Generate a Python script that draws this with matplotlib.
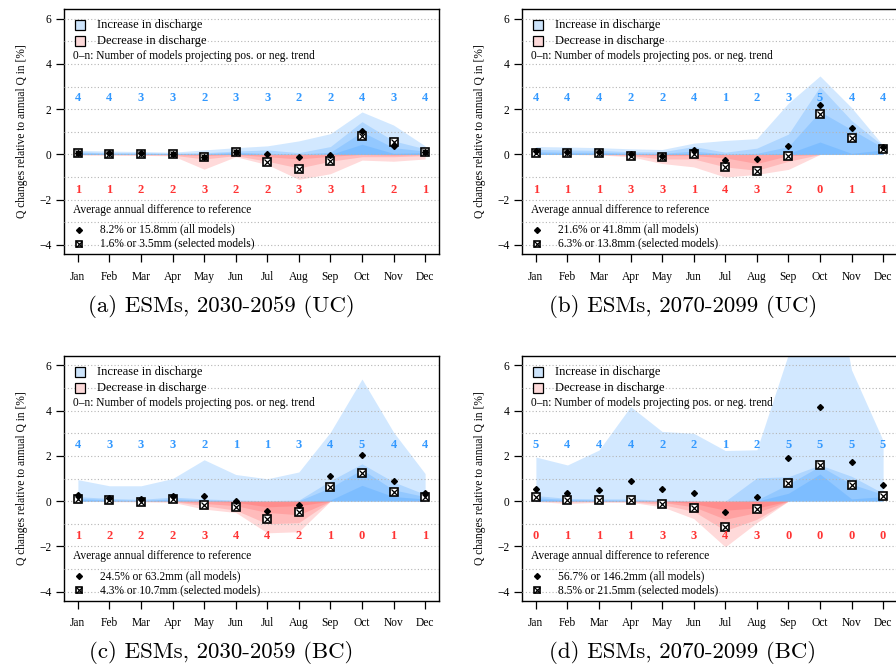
import numpy as np
import matplotlib
matplotlib.use("Agg")
import matplotlib.pyplot as plt

plt.rcParams['font.family'] = ['Liberation Serif', 'DejaVu Serif']
plt.rcParams['axes.unicode_minus'] = True

months = ['Jan', 'Feb', 'Mar', 'Apr', 'May', 'Jun', 'Jul', 'Aug', 'Sep', 'Oct', 'Nov', 'Dec']
x = np.arange(1, 13)

# ---- panel (a) ESMs 2030-2059 (UC)
a_blue = [[0.18, 0.15, 0.13, 0.10, 0.20, 0.30, 0.38, 0.60, 0.92, 1.88, 1.30, 0.38],
          [0.12, 0.08, 0.08, 0.06, 0.08, 0.15, 0.20, 0.08, 0.35, 1.45, 0.60, 0.25],
          [0.08, 0.05, 0.05, 0.04, 0.04, 0.10, 0.05, 0.02, 0.10, 1.00, 0.30, 0.15],
          [0.04, 0.02, 0.02, 0.02, 0.01, 0.05, 0.00, 0.00, 0.00, 0.45, 0.05, 0.08]]
a_red = [[-0.03, -0.03, -0.04, -0.06, -0.65, -0.10, -0.45, -1.10, -0.85, -0.25, -0.30, -0.20],
         [0.00, -0.01, -0.02, -0.03, -0.20, -0.05, -0.30, -0.60, -0.30, -0.10, -0.10, -0.05],
         [0.00, 0.00, 0.00, 0.00, -0.05, 0.00, -0.10, -0.20, -0.08, 0.00, -0.03, 0.00]]
a_all = [0.08, 0.05, 0.05, 0.03, -0.10, 0.12, 0.02, -0.12, -0.01, 1.04, 0.37, 0.13]
a_sel = [0.08, 0.04, 0.03, 0.01, -0.12, 0.10, -0.35, -0.63, -0.31, 0.82, 0.56, 0.12]
a_npos = [4, 4, 3, 3, 2, 3, 3, 2, 2, 4, 3, 4]
a_nneg = [1, 1, 2, 2, 3, 2, 2, 3, 3, 1, 2, 1]
a_txt = ['8.2% or 15.8mm (all models)', '1.6% or 3.5mm (selected models)']
a_cap = '(a) ESMs, 2030-2059 (UC)'

# ---- panel (b) ESMs 2070-2099 (UC)
b_blue = [[0.35, 0.33, 0.30, 0.25, 0.22, 0.50, 0.62, 0.70, 2.27, 3.47, 2.07, 0.40],
          [0.22, 0.20, 0.18, 0.12, 0.12, 0.35, 0.10, 0.28, 0.90, 3.00, 1.50, 0.38],
          [0.12, 0.10, 0.10, 0.06, 0.05, 0.15, 0.02, 0.05, 0.35, 1.90, 1.10, 0.30],
          [0.06, 0.05, 0.05, 0.02, 0.02, 0.05, 0.00, 0.00, 0.05, 0.55, 0.05, 0.20]]
b_red = [[0.00, 0.00, -0.02, -0.10, -0.40, -0.55, -1.00, -0.88, -0.66, 0.00, 0.00, 0.00],
         [0.00, 0.00, 0.00, -0.05, -0.20, -0.20, -0.55, -0.70, -0.30, 0.00, 0.00, 0.00],
         [0.00, 0.00, 0.00, 0.00, -0.05, -0.05, -0.15, -0.40, -0.05, 0.00, 0.00, 0.00]]
b_all = [0.15, 0.12, 0.10, 0.03, -0.07, 0.18, -0.25, -0.18, 0.37, 2.18, 1.15, 0.35]
b_sel = [0.08, 0.06, 0.05, -0.05, -0.10, 0.00, -0.54, -0.72, -0.07, 1.81, 0.74, 0.22]
b_npos = [4, 4, 4, 2, 2, 4, 1, 2, 3, 5, 4, 4]
b_nneg = [1, 1, 1, 3, 3, 1, 4, 3, 2, 0, 1, 1]
b_txt = ['21.6% or 41.8mm (all models)', '6.3% or 13.8mm (selected models)']
b_cap = '(b) ESMs, 2070-2099 (UC)'

# ---- panel (c) ESMs 2030-2059 (BC)
c_blue = [[0.95, 0.68, 0.68, 1.00, 1.83, 1.18, 0.99, 1.29, 3.05, 5.40, 3.05, 1.22],
          [0.20, 0.12, 0.08, 0.18, 0.10, 0.05, 0.02, 0.05, 0.90, 1.65, 0.85, 0.30],
          [0.12, 0.07, 0.04, 0.10, 0.05, 0.02, 0.00, 0.02, 0.60, 1.40, 0.50, 0.20],
          [0.06, 0.03, 0.02, 0.04, 0.02, 0.00, 0.00, 0.00, 0.05, 0.70, 0.20, 0.10]]
c_red = [[0.00, -0.02, -0.03, -0.05, -0.35, -0.50, -1.40, -1.35, 0.00, 0.00, 0.00, -0.02],
         [0.00, 0.00, -0.01, -0.02, -0.20, -0.40, -1.00, -0.95, 0.00, 0.00, 0.00, 0.00],
         [0.00, 0.00, 0.00, 0.00, -0.10, -0.20, -0.50, -0.60, 0.00, 0.00, 0.00, 0.00],
         [0.00, 0.00, 0.00, 0.00, 0.00, -0.05, -0.25, -0.20, 0.00, 0.00, 0.00, 0.00]]
c_all = [0.26, 0.15, 0.10, 0.25, 0.25, 0.02, -0.43, -0.15, 1.12, 2.05, 0.88, 0.37]
c_sel = [0.10, 0.05, -0.02, 0.08, -0.15, -0.28, -0.77, -0.50, 0.61, 1.24, 0.41, 0.17]
c_npos = [4, 3, 3, 3, 2, 1, 1, 3, 4, 5, 4, 4]
c_nneg = [1, 2, 2, 2, 3, 4, 4, 2, 1, 0, 1, 1]
c_txt = ['24.5% or 63.2mm (all models)', '4.3% or 10.7mm (selected models)']
c_cap = '(c) ESMs, 2030-2059 (BC)'

# ---- panel (d) ESMs 2070-2099 (BC)
d_blue = [[1.95, 1.60, 2.26, 4.18, 3.08, 3.00, 2.24, 2.27, 6.50, 13.0, 5.80, 2.68],
          [0.25, 0.12, 0.10, 0.10, 0.05, 0.02, 0.00, 1.03, 1.08, 1.60, 1.10, 0.35],
          [0.15, 0.08, 0.06, 0.05, 0.02, 0.00, 0.00, 0.05, 0.75, 1.55, 0.75, 0.30],
          [0.08, 0.03, 0.03, 0.02, 0.00, 0.00, 0.00, 0.00, 0.35, 1.20, 0.10, 0.20]]
d_red = [[-0.02, -0.10, -0.05, -0.05, -0.25, -0.77, -2.02, -0.95, 0.00, 0.00, 0.00, 0.00],
         [0.00, -0.03, -0.02, -0.02, -0.15, -0.45, -1.30, -0.80, 0.00, 0.00, 0.00, 0.00],
         [0.00, 0.00, 0.00, 0.00, -0.05, -0.25, -0.80, -0.50, 0.00, 0.00, 0.00, 0.00],
         [0.00, 0.00, 0.00, 0.00, 0.00, -0.10, -0.40, -0.30, 0.00, 0.00, 0.00, 0.00]]
d_all = [0.52, 0.35, 0.50, 0.88, 0.52, 0.37, -0.46, 0.19, 1.92, 4.15, 1.71, 0.73]
d_sel = [0.18, 0.03, 0.06, 0.03, -0.11, -0.30, -1.14, -0.33, 0.80, 1.58, 0.70, 0.22]
d_npos = [5, 4, 4, 4, 2, 2, 1, 2, 5, 5, 5, 5]
d_nneg = [0, 1, 1, 1, 3, 3, 4, 3, 0, 0, 0, 0]
d_txt = ['56.7% or 146.2mm (all models)', '8.5% or 21.5mm (selected models)']
d_cap = '(d) ESMs, 2070-2099 (BC)'

panels = [
    (a_blue, a_red, a_all, a_sel, a_npos, a_nneg, a_txt, a_cap),
    (b_blue, b_red, b_all, b_sel, b_npos, b_nneg, b_txt, b_cap),
    (c_blue, c_red, c_all, c_sel, c_npos, c_nneg, c_txt, c_cap),
    (d_blue, d_red, d_all, d_sel, d_npos, d_nneg, d_txt, d_cap),
]

BLUE = '#3399ff'
RED = '#ff3333'
W, H = 896, 671
fig = plt.figure(figsize=(W / 100, H / 100), dpi=100)

# axes boxes in pixels: left, top
boxes = [(64, 9), (522, 9), (64, 355.7), (522, 355.7)]
caps = [(221, 306), (683, 306), (221, 653), (683, 653)]
aw, ah = 375, 245
fs = 8.3


def sel_marker(ax, xs, ys, ms=5.5):
    ax.plot(xs, ys, 's', ms=ms, mfc='white', mec='black', mew=1.2, ls='none', zorder=6)
    ax.plot(xs, ys, 'x', ms=ms * 0.75, mec='black', mew=0.9, ls='none', zorder=7)


for (blue, red, allm, selm, npos, nneg, txt, cap), (l, t), (cx, cy) in zip(panels, boxes, caps):
    ax = fig.add_axes([l / W, 1 - (t + ah) / H, aw / W, ah / H])
    ax.set_xlim(0.56, 12.44)
    ax.set_ylim(-4.4, 6.43)

    for lay in blue:
        ax.fill_between(x, 0, lay, color=BLUE, alpha=0.22, lw=0, zorder=2)
    for lay in red:
        ax.fill_between(x, 0, lay, color=RED, alpha=0.18, lw=0, zorder=2)

    for yy in range(-4, 7):
        ax.axhline(yy, color='#b5b5b5', ls=(0, (1, 2)), lw=0.8, zorder=3)

    ax.plot(x, allm, 'D', ms=3.0, color='black', ls='none', zorder=8)
    sel_marker(ax, x, selm)

    for xi, n in zip(x, npos):
        ax.text(xi, 2.5, str(n), color=BLUE, fontsize=fs + 0.7, fontweight='bold',
                ha='center', va='center', zorder=9)
    for xi, n in zip(x, nneg):
        ax.text(xi, -1.55, str(n), color=RED, fontsize=fs + 0.7, fontweight='bold',
                ha='center', va='center', zorder=9)

    # legend block top
    ax.plot([1.08], [5.72], 's', ms=7, mfc='#cde4fb', mec='black', mew=0.9, zorder=9)
    ax.text(1.6, 5.72, 'Increase in discharge', fontsize=fs + 0.7, va='center', zorder=9)
    ax.plot([1.08], [5.02], 's', ms=7, mfc='#fcd9d9', mec='black', mew=0.9, zorder=9)
    ax.text(1.6, 5.02, 'Decrease in discharge', fontsize=fs + 0.7, va='center', zorder=9)
    ax.text(0.83, 4.34, '0\u2013n: Number of models projecting pos. or neg. trend',
            fontsize=fs, va='center', zorder=9)

    # legend block bottom
    ax.text(0.83, -2.44, 'Average annual difference to reference', fontsize=fs,
            va='center', zorder=9)
    ax.plot([1.05], [-3.32], 'D', ms=3.0, color='black', zorder=9)
    ax.text(1.7, -3.32, txt[0], fontsize=fs, va='center', zorder=9)
    sel_marker(ax, [1.05], [-3.94], ms=5)
    ax.text(1.7, -3.94, txt[1], fontsize=fs, va='center', zorder=9)

    ax.set_xticks(x)
    ax.set_xticklabels(months, fontsize=fs)
    ax.set_yticks([-4, -2, 0, 2, 4, 6])
    ax.tick_params(axis='x', length=6, width=0.9, pad=6)
    ax.tick_params(axis='y', length=6, width=0.9, pad=3, labelsize=fs)
    for s in ax.spines.values():
        s.set_linewidth(1.0)
    ax.set_ylabel('Q changes relative to annual Q in [%]', fontsize=fs, labelpad=8)

    fig.text(cx / W, 1 - cy / H, cap, fontsize=16.5, family='cmr10',
             ha='center', va='center')

fig.savefig('out.png', dpi=100)
